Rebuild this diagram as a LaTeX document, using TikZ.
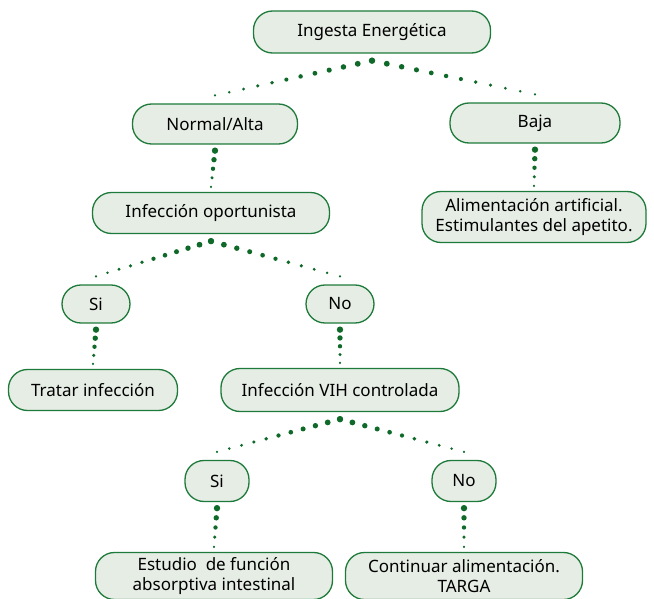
\documentclass[tikz,border=0pt]{standalone}
\usepackage{fontspec}
\setmainfont{Noto Sans}
\usetikzlibrary{calc}
\definecolor{dk}{HTML}{0F6A2A}
\definecolor{ln}{HTML}{1E7A3A}
\definecolor{bg}{HTML}{E6EDE5}
\begin{document}
\begin{tikzpicture}[
    x=1pt, y=-1pt,
    b/.style={rectangle, draw=ln, line width=1.3pt, fill=bg, rounded corners=19pt, font=\fontsize{17}{20}\selectfont, align=center, inner sep=0pt},
    dt/.style={fill=dk},
]
\useasboundingbox (0,0) rectangle (654,599);

% Level 1
\node[b, minimum width=237pt, minimum height=42pt] (ing) at (372,32) {Ingesta Energética};

% Level 2
\node[b, minimum width=165pt, minimum height=40pt] (nor) at (215,124) {Normal/Alta};
\node[b, minimum width=170pt, minimum height=40pt] (baj) at (535,123) {Baja};
\node[b, minimum width=224pt, minimum height=51pt] (art) at (534,217) {Alimentación artificial.\\Estimulantes del apetito.};

% Level 3
\node[b, minimum width=237pt, minimum height=41pt] (opo) at (211,213) {Infección oportunista};
\node[b, minimum width=68pt, minimum height=38pt] (si1) at (96,304) {Si};
\node[b, minimum width=68pt, minimum height=38pt] (no1) at (340,304) {No};
\node[b, minimum width=169pt, minimum height=41pt] (tra) at (93,390) {Tratar infección};
\node[b, minimum width=238pt, minimum height=43pt] (vih) at (340,390) {Infección VIH controlada};

% Level 4
\node[b, minimum width=64pt, minimum height=41pt] (si2) at (217,481) {Si};
\node[b, minimum width=64pt, minimum height=41pt] (no2) at (464,481) {No};
\node[b, minimum width=237pt, minimum height=47pt] (est) at (214,576) {Estudio~ de función\\absorptiva intestinal};
\node[b, minimum width=237pt, minimum height=47pt] (con) at (464,576) {Continuar alimentación.\\TARGA};

% Dotted links (big dots at the parent, small at the child)
\foreach \p/\c/\n in {ing/nor/11, ing/baj/11, opo/si1/10, opo/no1/10, vih/si2/10, vih/no2/10}{
    \foreach \i in {0,...,\n}{
        \fill[dt] ($([yshift=-7pt]\p.south)!\i/\n!([yshift=8pt]\c.north)$) circle[radius={3.1pt-1.9*\i/\n*1pt}];
    }
}
\foreach \p/\c in {nor/opo, baj/art, si1/tra, no1/vih, si2/est, no2/con}{
    \foreach \i in {0,...,4}{
        \fill[dt] ($([yshift=-6pt]\p.south)!\i/4!([yshift=5pt]\c.north)$) circle[radius={3.2pt-2*\i/4*1pt}];
    }
}
\end{tikzpicture}
\end{document}
